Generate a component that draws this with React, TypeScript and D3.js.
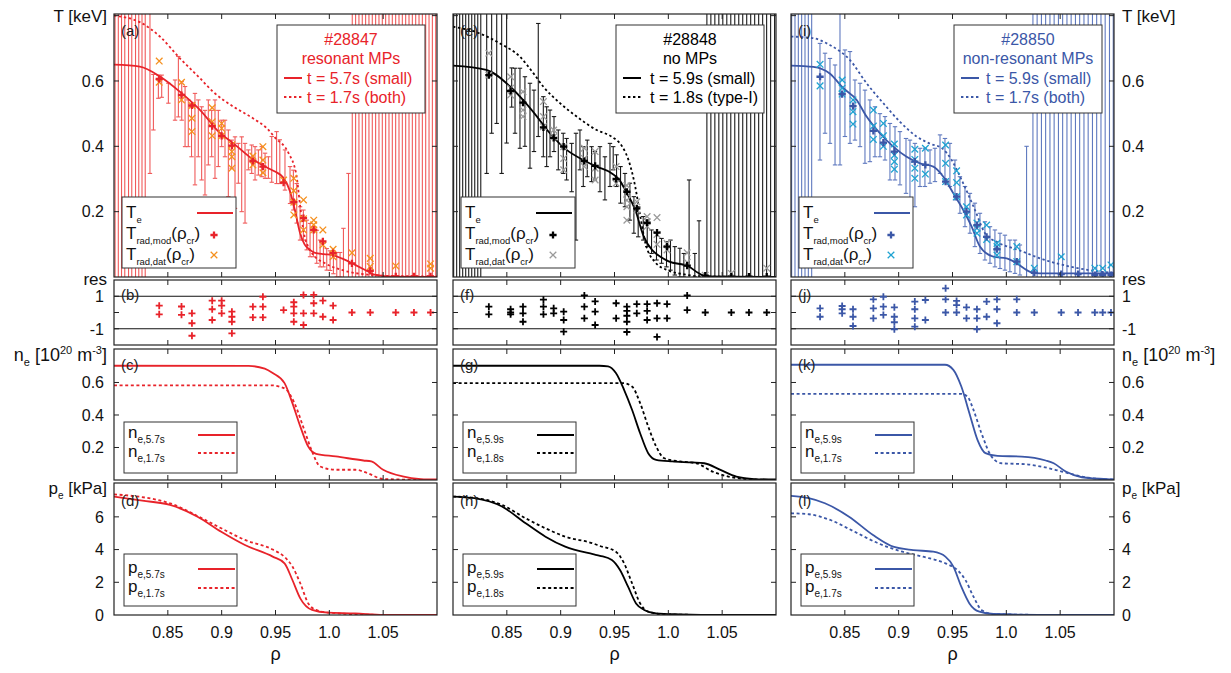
import React from "react";
import * as d3 from "d3";

type P = [number, number];
type Bar = [number, number, number];

// ---------- axes ----------
const RHO_DOMAIN: P = [0.8, 1.1];
const xTickValues = [0.85, 0.9, 0.95, 1.0, 1.05];
const xTickLabels = ["0.85", "0.9", "0.95", "1.0", "1.05"];
const tTickMarks = [0.2, 0.4, 0.6, 0.8];
const tTickLabels = [0.2, 0.4, 0.6];
const resTickMarks = [-1, 0, 1];
const resTickLabels = [-1, 1];
const neTickMarks = [0.2, 0.4, 0.6];
const neTickLabels = [0.2, 0.4, 0.6];
const peTickMarks = [2, 4, 6];
const peTickLabels = [0, 2, 4, 6];

// ---------- column 1: #28847 resonant MPs ----------
const te1Solid: P[] = [[0.80,0.650],[0.824,0.644],[0.843,0.613],[0.863,0.562],[0.88,0.511],[0.898,0.442],[0.911,0.409],[0.929,0.36],[0.942,0.335],[0.95,0.322],[0.957,0.305],[0.9635,0.262],[0.968,0.205],[0.9728,0.135],[0.977,0.100],[0.982,0.083],[0.9867,0.074],[0.995,0.070],[1.003,0.067],[1.0115,0.057],[1.024,0.037],[1.036,0.017],[1.042,0.007],[1.06,0.001],[1.10,0]];
const te1Dash: P[] = [[0.80,0.80],[0.824,0.78],[0.843,0.735],[0.861,0.67],[0.88,0.608],[0.892,0.567],[0.911,0.521],[0.929,0.486],[0.942,0.455],[0.95,0.425],[0.962,0.38],[0.9695,0.31],[0.9728,0.22],[0.976,0.14],[0.98,0.095],[0.985,0.068],[0.996,0.042],[1.011,0.022],[1.036,0.007],[1.06,0.003],[1.10,0.002]];
const mod1Rho = [0.842,0.8627,0.8724,0.8912,0.90,0.9095,0.929,0.9383,0.9575,0.967,0.976,0.9855,0.994,1.0035,1.021,1.038,1.0617,1.0786,1.094];
const mod1T = [0.606,0.557,0.525,0.462,0.432,0.402,0.355,0.338,0.289,0.229,0.180,0.144,0.109,0.073,0.042,0.019,0.002,0.002,0.002];
const dat1T: number[][] = [[0.661,0.596],[0.596,0.542],[0.525,0.486,0.445],[0.518,0.475,0.432],[0.47,0.455,0.432],[0.405,0.384,0.368,0.333],[0.37,0.343],[0.399,0.358,0.319],[0.297],[0.302,0.264,0.229,0.19],[0.236,0.178,0.144],[0.174,0.16,0.144],[0.144,0.098],[0.085,0.062],[0.074],[0.057,0.032],[0.034],[],[0.04,0.027]];
const res1: number[][] = [[0.42,-0.11],[0.37,-0.14],[-0.05,-0.66,-1.43],[0.73,0.2,-0.46],[0.73,0.42,-0.05],[0.05,-0.26,-0.57,-1.28],[0.36,-0.3],[0.97,0.36,-0.3],[0.15],[0.63,0.36,-0.05,-0.57],[1.08,-0.05,-0.77],[1.08,0.57,-0.05],[0.73,-0.26],[0.42,-0.46],[0],[0],[0],[0],[0]];
const err1: Bar[] = [[0.801,-1,2],[0.804,-1,2],[0.807,-1,2],[0.810,-1,2],[0.8135,-1,2],[0.8165,-1,2],[0.820,-1,2],[0.823,-1,2],[0.826,-1,2],[0.829,-1,2],
  [0.8334,0.317,2],[0.8366,0.45,0.62],[0.8412,0.547,0.618],[0.8443,0.55,0.618],[0.8505,0.532,0.593],[0.8567,0.48,0.603],[0.8598,0.49,0.675],[0.8629,0.48,0.598],[0.866,0.399,0.583],[0.869,0.399,0.542],[0.872,0.368,0.521],[0.8752,0.282,0.562],[0.8783,0.368,0.542],[0.8814,0.297,0.521],[0.8845,0.251,0.51],[0.8876,0.343,0.542],[0.8907,0.368,0.51],[0.8938,0.302,0.542],[0.8969,0.338,0.51],[0.90,0.399,0.48],[0.9031,0.368,0.48],[0.9062,0.246,0.45],[0.9093,0.333,0.419],[0.9124,0.21,0.429],[0.9155,0.287,0.409],[0.9186,0.2,0.429],[0.9217,0.165,0.409],[0.9248,0.328,0.389],[0.9279,0.317,0.404],[0.931,0.297,0.399],[0.9341,0.312,0.389],[0.9372,0.307,0.399],[0.9403,0.302,0.379],[0.9434,0.302,0.368],[0.9465,0.29,0.43],[0.951,0.286,0.445],[0.954,0.286,0.42],[0.9588,0.266,0.389],[0.9635,0.225,0.338],[0.9666,0.205,0.327],[0.9697,0.165,0.286],[0.9728,0.113,0.215],[0.9759,0.113,0.205],[0.979,0.083,0.174],[0.9821,0.062,0.164],[0.9852,0.062,0.154],[0.9883,0.042,0.143],[0.9914,0.031,0.113],[0.9945,0.031,0.103],[0.9976,0.021,0.087],[1.0007,0.02,0.08],[1.0038,0.01,0.08],[1.0069,0,0.075],[1.01,0,0.075],[1.0131,-1,0.149],[1.0178,-1,0.317],
  [1.0213,-1,2],[1.0244,-1,2],[1.0275,-1,2],[1.0306,-1,2],[1.0337,-1,2],[1.0368,-1,2],[1.0399,-1,2],[1.043,-1,2],[1.0461,-1,2],[1.0492,-1,2],[1.0523,-1,2],[1.0554,-1,2],[1.0585,-1,2],[1.0616,-1,2],[1.0647,-1,2],[1.0678,-1,2],[1.0709,-1,2],[1.074,-1,2],[1.0771,-1,2],[1.0802,-1,2],[1.0833,-1,2],[1.0864,-1,2],[1.0895,-1,2],[1.0926,-1,2],[1.0957,-1,2],[1.0988,-1,2]];
const ne1Solid: P[] = [[0.80,0.703],[0.925,0.702],[0.94,0.685],[0.9474,0.658],[0.9584,0.596],[0.9657,0.473],[0.973,0.33],[0.9804,0.206],[0.9877,0.161],[1.006,0.145],[1.0316,0.12],[1.039,0.114],[1.05,0.063],[1.068,0.022],[1.085,0.006],[1.10,0.003]];
const ne1Dash: P[] = [[0.80,0.582],[0.948,0.582],[0.9535,0.575],[0.9602,0.555],[0.9676,0.473],[0.9767,0.309],[0.984,0.175],[0.9915,0.083],[1.006,0.063],[1.0244,0.063],[1.0355,0.042],[1.05,0.006],[1.10,0.0]];
const pe1Solid: P[] = [[0.80,7.24],[0.8263,6.99],[0.852,6.73],[0.8776,6.01],[0.8996,5.09],[0.9216,4.28],[0.9474,3.57],[0.9584,3.16],[0.9657,2.14],[0.973,1.02],[0.984,0.31],[0.9987,0.14],[1.024,0.1],[1.05,0.01],[1.10,0]];
const pe1Dash: P[] = [[0.80,7.38],[0.852,6.83],[0.8776,6.05],[0.8996,5.3],[0.9216,4.59],[0.9474,4.0],[0.9584,3.55],[0.9657,2.96],[0.973,1.94],[0.9804,0.71],[0.9877,0.31],[1.0,0.14],[1.045,0.01],[1.10,0]];

// ---------- column 2: #28848 no MPs ----------
const te2Solid: P[] = [[0.80,0.647],[0.831,0.634],[0.853,0.583],[0.865,0.542],[0.878,0.491],[0.89,0.44],[0.9056,0.389],[0.921,0.358],[0.9334,0.338],[0.9476,0.317],[0.955,0.295],[0.96,0.266],[0.9693,0.205],[0.977,0.125],[0.9848,0.083],[0.9926,0.062],[1.0003,0.048],[1.019,0.032],[1.028,0.012],[1.035,0.002],[1.10,0]];
const te2Dash: P[] = [[0.80,0.766],[0.822,0.749],[0.8436,0.715],[0.8622,0.674],[0.8746,0.624],[0.8838,0.583],[0.8994,0.532],[0.9149,0.491],[0.9334,0.45],[0.9476,0.429],[0.957,0.40],[0.963,0.358],[0.9693,0.276],[0.974,0.185],[0.9786,0.105],[0.9878,0.045],[1.0,0.02],[1.015,0.008],[1.03,0.002],[1.10,0]];
const mod2Rho = [0.8333,0.8535,0.865,0.884,0.8935,0.9028,0.922,0.932,0.9515,0.9615,0.9707,0.9803,0.9895,0.9988,1.0175,1.0343,1.0585,1.0749,1.0914];
const mod2T = [0.618,0.57,0.534,0.458,0.426,0.399,0.355,0.34,0.30,0.261,0.21,0.166,0.136,0.093,0.035,0.004,0.001,0.001,0.001];
const dat2T: number[][] = [[0.685,0.618],[0.613,0.578,0.557],[0.567,0.511,0.491],[0.537,0.491,0.46],[0.45,0.429],[0.399,0.363,0.328],[0.394,0.363,0.338],[0.384,0.333,0.297],[0.338,0.287],[0.28,0.256,0.235,0.215,0.174],[0.23,0.205],[0.185,0.17,0.155],[0.182,0.13,0.1],[0.103,0.083],[0.074,0.045],[0.005],[0.011],[],[0.027]];
const res2: number[][] = [[0.36,-0.11],[0.2,0,-0.11],[0.36,-0.05,-0.57],[0.79,0.36,-0.11],[0.26,-0.05],[0.05,-0.46,-1.18],[1.05,0.36,-0.36],[0.68,0.05,-0.77],[0.57,-0.36],[0.36,0.1,-0.2,-0.57,-1.2],[0.52,-0.05],[0.52,0.1,-0.46],[0.57,-0.36,-1.5],[0.52,-0.36],[1.05,0.15],[0],[0],[0],[0]];
const err2: Bar[] = [[0.8006,-1,2],[0.8034,-1,2],[0.8062,-1,2],[0.809,-1,2],[0.8118,-1,2],[0.8146,-1,2],[0.8174,-1,2],[0.8202,-1,2],[0.823,-1,2],[0.8258,-1,2],
  [0.8313,0.317,2],[0.8359,0.44,2],[0.8406,0.47,2],[0.8452,0.317,2],[0.8498,0.41,2],[0.8545,0.52,0.64],[0.8576,0.44,0.639],[0.8622,0.394,0.639],[0.8668,0.40,0.613],[0.8715,0.333,0.593],[0.8752,0.384,0.572],[0.8792,0.43,0.776],[0.8839,0.368,0.552],[0.887,0.338,0.521],[0.8901,0.368,0.511],[0.8938,0.384,0.491],[0.8978,0.328,0.45],[0.9024,0.317,0.44],[0.9055,0.297,0.424],[0.9102,0.261,0.409],[0.9142,0.113,0.44],[0.9179,0.328,0.45],[0.921,0.277,0.399],[0.9247,0.307,0.419],[0.9287,0.292,0.399],[0.9318,0.297,0.384],[0.9365,0.261,0.399],[0.9411,0.236,0.368],[0.9458,0.277,0.409],[0.9488,0.328,0.399],[0.9519,0.277,0.374],[0.9556,0.226,0.338],[0.9597,0.215,0.317],[0.9643,0.174,0.287],[0.968,0.134,0.246],[0.972,0.123,0.215],[0.9767,0.113,0.185],[0.9804,0.093,0.174],[0.9844,0.072,0.144],[0.989,0.052,0.134],[0.9937,0.042,0.118],[0.9983,0.031,0.108],[1.002,0.021,0.113],[1.006,0.006,0.093],[1.0107,0,0.088],[1.0144,0,0.072],[1.0193,-1,0.297],[1.0246,0,0.072],[1.0285,-1,0.172],
  [1.0358,-1,2],[1.0395,-1,2],[1.0432,-1,2],[1.0469,-1,2],[1.0506,-1,2],[1.0543,-1,2],[1.058,-1,2],[1.0617,-1,2],[1.0654,-1,2],[1.0691,-1,2],[1.0728,-1,2],[1.0765,-1,2],[1.0802,-1,2],[1.0839,-1,2],[1.0876,-1,2],[1.0913,-1,2],[1.095,-1,2],[1.0987,-1,2]];
const ne2Solid: P[] = [[0.80,0.703],[0.936,0.703],[0.944,0.699],[0.9513,0.658],[0.9589,0.555],[0.9663,0.432],[0.9738,0.288],[0.9813,0.165],[0.9887,0.124],[1.0036,0.114],[1.0223,0.108],[1.0334,0.103],[1.0484,0.062],[1.0632,0.021],[1.08,0.006],[1.10,0.003]];
const ne2Dash: P[] = [[0.80,0.596],[0.958,0.596],[0.9663,0.575],[0.9738,0.473],[0.9813,0.329],[0.9887,0.206],[0.9962,0.134],[1.011,0.114],[1.026,0.103],[1.041,0.052],[1.0557,0.021],[1.078,0.004],[1.10,0.0]];
const pe2Solid: P[] = [[0.80,7.24],[0.8198,7.14],[0.8455,6.63],[0.8675,5.61],[0.8859,4.79],[0.9042,4.18],[0.9299,3.72],[0.9365,3.62],[0.9476,3.36],[0.9551,2.75],[0.9626,1.73],[0.97,0.71],[0.9775,0.31],[0.9887,0.1],[1.011,0.04],[1.05,0],[1.10,0]];
const pe2Dash: P[] = [[0.80,7.24],[0.8198,7.16],[0.8455,6.73],[0.8675,5.91],[0.8859,5.3],[0.9042,4.79],[0.9299,4.38],[0.9365,4.22],[0.9513,3.87],[0.9589,3.16],[0.9663,1.94],[0.9738,0.71],[0.9813,0.2],[0.9962,0.04],[1.05,0],[1.10,0]];

// ---------- column 3: #28850 non-resonant MPs ----------
const te3Solid: P[] = [[0.80,0.647],[0.8207,0.643],[0.836,0.623],[0.8486,0.578],[0.861,0.542],[0.8702,0.491],[0.8826,0.44],[0.895,0.399],[0.9074,0.368],[0.9198,0.348],[0.9322,0.338],[0.9415,0.307],[0.9508,0.256],[0.96,0.205],[0.9678,0.154],[0.9755,0.093],[0.988,0.062],[1.0003,0.057],[1.0096,0.042],[1.022,0.016],[1.0313,0.011],[1.10,0.011]];
const te3Dash: P[] = [[0.80,0.736],[0.8207,0.731],[0.836,0.71],[0.8548,0.664],[0.8702,0.593],[0.8857,0.532],[0.9012,0.475],[0.9167,0.43],[0.93,0.407],[0.94,0.395],[0.9492,0.358],[0.9585,0.297],[0.9709,0.205],[0.9802,0.134],[0.9925,0.105],[1.011,0.083],[1.0358,0.052],[1.0606,0.031],[1.0884,0.016],[1.10,0.013]];
const mod3Rho = [0.827,0.8475,0.8576,0.8765,0.8858,0.896,0.915,0.9248,0.9436,0.9538,0.963,0.9727,0.9817,0.9913,1.0097,1.026,1.051,1.0666,1.0822,1.0895,1.0972];
const mod3T = [0.613,0.56,0.523,0.447,0.411,0.384,0.353,0.343,0.292,0.246,0.2,0.159,0.123,0.085,0.047,0.013,0.009,0.009,0.006,0.006,0.006];
const dat3T: number[][] = [[0.651,0.585],[0.603,0.578,0.56],[0.542,0.506,0.468],[0.511,0.462,0.421],[0.47,0.432,0.40],[0.407,0.373,0.353,0.33],[0.391,0.36,0.333,0.302],[0.394,0.315],[0.404,0.348,0.292],[0.325,0.289,0.246],[0.215,0.19],[0.165,0.149,0.134],[0.159,0.115],[0.103,0.093,0.067],[0.093,0.047],[0.027],[0.062],[],[0.027],[0.027],[0.037]];
const res3: number[][] = [[0.26,-0.26],[0.4,0.2,-0.05],[0.2,-0.26,-0.83],[0.81,0.26,-0.36],[0.97,0.36,-0.15],[0.32,-0.26,-0.6,-1.03],[0.67,0.2,-0.36,-0.87],[0.77,-0.46],[1.49,0.81,0],[0.71,0.46,0],[0.32,-0.36],[0.2,-0.36,-1.03],[0.67,-0.26],[0.81,0.2,-0.66],[0.81,0],[0],[0],[0],[0],[0],[0]];
const err3: Bar[] = [[0.8006,-1,2],[0.8037,-1,2],[0.8068,-1,2],[0.8099,-1,2],[0.813,-1,2],[0.8161,-1,2],[0.8192,-1,2],
  [0.8269,0.358,0.715],[0.8316,0.44,0.685],[0.8362,0.409,0.669],[0.8409,0.343,0.649],[0.8455,0.343,2],[0.8501,0.43,0.695],[0.8548,0.409,0.69],[0.8594,0.419,0.603],[0.8641,0.399,0.593],[0.8687,0.348,0.572],[0.8733,0.353,0.542],[0.878,0.368,0.521],[0.8826,0.368,0.5],[0.8873,0.358,0.491],[0.8919,0.297,0.47],[0.8966,0.297,0.46],[0.9012,0.282,0.445],[0.9068,0.256,0.424],[0.9105,0.236,0.419],[0.9151,0.215,0.409],[0.9198,0.277,0.394],[0.9244,0.277,0.394],[0.9291,0.287,0.389],[0.9337,0.292,0.394],[0.9384,0.317,0.435],[0.943,0.297,0.424],[0.9476,0.277,0.409],[0.9523,0.236,0.358],[0.9569,0.195,0.307],[0.9616,0.154,0.277],[0.9662,0.134,0.256],[0.9708,0.093,0.226],[0.9755,0.072,0.195],[0.9801,0.052,0.169],[0.9848,0.042,0.154],[0.9894,0.031,0.144],[0.9941,0.026,0.134],[0.9987,0.021,0.128],[1.0033,0.016,0.113],[1.008,0.011,0.113],[1.0126,0.006,0.098],[1.0188,-1,0.4],
  [1.0247,-1,2],[1.0286,-1,2],[1.0326,-1,2],[1.0365,-1,2],[1.0405,-1,2],[1.0444,-1,2],[1.0484,-1,2],[1.0523,-1,2],[1.0563,-1,2],[1.0602,-1,2],[1.0642,-1,2],[1.0681,-1,2],[1.0721,-1,2],[1.076,-1,2],[1.08,-1,2],[1.0839,-1,2],[1.0879,-1,2],[1.0918,-1,2],[1.0958,-1,2],[1.0993,-1,2]];
const ne3Solid: P[] = [[0.80,0.709],[0.943,0.709],[0.9508,0.678],[0.9582,0.575],[0.9657,0.411],[0.9732,0.247],[0.9806,0.165],[0.9918,0.148],[1.0142,0.144],[1.0366,0.12],[1.044,0.103],[1.0552,0.052],[1.0702,0.017],[1.096,0.004],[1.10,0.003]];
const ne3Dash: P[] = [[0.80,0.53],[0.958,0.53],[0.9639,0.513],[0.9695,0.431],[0.9769,0.288],[0.9863,0.144],[0.9955,0.103],[1.018,0.097],[1.0329,0.082],[1.0516,0.052],[1.0702,0.021],[1.0925,0.004],[1.10,0.003]];
const pe3Solid: P[] = [[0.80,7.28],[0.8165,7.14],[0.8315,6.83],[0.8539,6.01],[0.8762,4.89],[0.8949,4.18],[0.9135,3.97],[0.9321,3.87],[0.9434,3.57],[0.9508,2.96],[0.9582,1.73],[0.9657,0.71],[0.975,0.2],[0.9881,0.06],[1.05,0],[1.10,0]];
const pe3Dash: P[] = [[0.80,6.22],[0.8165,6.16],[0.8364,5.81],[0.8587,5.1],[0.8811,4.38],[0.9035,3.87],[0.9221,3.57],[0.9434,3.16],[0.9545,2.75],[0.962,2.14],[0.9695,1.12],[0.9769,0.31],[0.9881,0.06],[1.05,0],[1.10,0]];

// ---------- legend texts ----------
const shotLabels = ["#28847", "#28848", "#28850"];
const mpLabels = ["resonant MPs", "no MPs", "non-resonant MPs"];
const tSolidLabels = ["t = 5.7s (small)", "t = 5.9s (small)", "t = 5.9s (small)"];
const tDashLabels = ["t = 1.7s (both)", "t = 1.8s (type-I)", "t = 1.7s (both)"];
const solidSubs = ["e,5.7s", "e,5.9s", "e,5.9s"];
const dashSubs = ["e,1.7s", "e,1.8s", "e,1.7s"];
const letters = [["(a)","(b)","(c)","(d)"],["(e)","(f)","(g)","(h)"],["(i)","(j)","(k)","(l)"]];

const columns = [
  { te: te1Solid, teD: te1Dash, modRho: mod1Rho, modT: mod1T, dat: dat1T, res: res1, err: err1, ne: ne1Solid, neD: ne1Dash, pe: pe1Solid, peD: pe1Dash,
    main: "#e8232a", datColor: "#f5901e", errColor: "#f05a5a", textStart: 30 },
  { te: te2Solid, teD: te2Dash, modRho: mod2Rho, modT: mod2T, dat: dat2T, res: res2, err: err2, ne: ne2Solid, neD: ne2Dash, pe: pe2Solid, peD: pe2Dash,
    main: "#000000", datColor: "#9a9a9a", errColor: "#1a1a1a", textStart: 34 },
  { te: te3Solid, teD: te3Dash, modRho: mod3Rho, modT: mod3T, dat: dat3T, res: res3, err: err3, ne: ne3Solid, neD: ne3Dash, pe: pe3Solid, peD: pe3Dash,
    main: "#3b57a7", datColor: "#1fa3d2", errColor: "#5f79bf", textStart: 32 },
];

// ---------- layout ----------
const FONT = "'Liberation Sans', Arial, Helvetica, sans-serif";
const COL_LEFT = [114, 453, 791];
const PW = 323;
const PT = { top: 14, bottom: 277 };
const PR = { top: 280, bottom: 345 };
const PN = { top: 349, bottom: 480 };
const PP = { top: 483, bottom: 615 };
const TICK = 5;
const DASH = "3,2.6";
const TDASH = "2.4,2.6";

function Frame({ L, p, yTicks, ys, x }: any) {
  return (
    <g>
      <rect x={L} y={p.top} width={PW} height={p.bottom - p.top} fill="none" stroke="#222" strokeWidth={1.2} />
      {xTickValues.map((v) => (
        <g key={"xt" + v}>
          <line x1={x(v)} x2={x(v)} y1={p.bottom} y2={p.bottom - TICK} stroke="#222" />
          <line x1={x(v)} x2={x(v)} y1={p.top} y2={p.top + TICK} stroke="#222" />
        </g>
      ))}
      {yTicks.map((v: number) => (
        <g key={"yt" + v}>
          <line x1={L} x2={L + TICK} y1={ys(v)} y2={ys(v)} stroke="#222" />
          <line x1={L + PW} x2={L + PW - TICK} y1={ys(v)} y2={ys(v)} stroke="#222" />
        </g>
      ))}
    </g>
  );
}

function Column({ ci }: { ci: number }) {
  const c = columns[ci];
  const L = COL_LEFT[ci];
  const x = d3.scaleLinear().domain(RHO_DOMAIN).range([L, L + PW]);
  const yT = d3.scaleLinear().domain([0, 0.805]).range([PT.bottom, PT.top]);
  const yR = d3.scaleLinear().domain([-2, 2]).range([PR.bottom, PR.top]);
  const yN = d3.scaleLinear().domain([0, 0.806]).range([PN.bottom, PN.top]);
  const yP = d3.scaleLinear().domain([0, 8.07]).range([PP.bottom, PP.top]);
  const mk = (ys: any) => d3.line<P>().x((d) => x(d[0])).y((d) => ys(d[1])).curve(d3.curveMonotoneX);
  const lT = mk(yT), lN = mk(yN), lP = mk(yP);
  const id = (s: string) => `clip-${ci}-${s}`;
  const plus = (cx: number, cy: number, h: number) => `M${cx - h},${cy}H${cx + h}M${cx},${cy - h}V${cy + h}`;
  const cross = (cx: number, cy: number, h: number) => `M${cx - h},${cy - h}L${cx + h},${cy + h}M${cx - h},${cy + h}L${cx + h},${cy - h}`;
  const mc = c.main;
  const legTx = L + 163;
  const legBx = L + 8;
  const lab = letters[ci];

  return (
    <g>
      <defs>
        {[["T", PT], ["R", PR], ["N", PN], ["P", PP]].map(([k, p]: any) => (
          <clipPath id={id(k)} key={k}>
            <rect x={L} y={p.top} width={PW} height={p.bottom - p.top} />
          </clipPath>
        ))}
      </defs>

      {/* ---------- T panel ---------- */}
      <g clipPath={`url(#${id("T")})`}>
        {c.err.map(([r, lo, hi], i) => {
          const xx = x(r), y1 = yT(lo), y2 = yT(hi);
          return (
            <g key={"e" + i} stroke={c.errColor} strokeWidth={1.1}>
              <line x1={xx} x2={xx} y1={y1} y2={y2} />
              <line x1={xx - 2.2} x2={xx + 2.2} y1={y1} y2={y1} />
              <line x1={xx - 2.2} x2={xx + 2.2} y1={y2} y2={y2} />
            </g>
          );
        })}
        <path d={lT(c.teD) || ""} fill="none" stroke={mc} strokeWidth={1.8} strokeDasharray={TDASH} />
        <path d={lT(c.te) || ""} fill="none" stroke={mc} strokeWidth={1.8} />
        {c.dat.map((vals, i) => vals.map((v, j) => (
          <path key={`d${i}-${j}`} d={cross(x(c.modRho[i]), yT(v), 3.3)} stroke={c.datColor} strokeWidth={1.3} fill="none" />
        )))}
        {c.modRho.map((r, i) => (
          <path key={"m" + i} d={plus(x(r), yT(c.modT[i]), 3.6)} stroke={mc} strokeWidth={2.3} fill="none" />
        ))}
      </g>
      <Frame L={L} p={PT} yTicks={tTickMarks} ys={yT} x={x} />
      <text x={L + 7} y={36} fontSize={15} fontFamily={FONT} fill="#222">{lab[0]}</text>

      {/* top-right legend */}
      <g fontFamily={FONT} fontSize={16} fill={mc}>
        <rect x={legTx} y={25} width={148} height={88} fill="#fff" stroke="#333" strokeWidth={1} />
        <text x={legTx + 74} y={45} textAnchor="middle">{shotLabels[ci]}</text>
        <text x={legTx + 74} y={64} textAnchor="middle">{mpLabels[ci]}</text>
        <line x1={legTx + 7} x2={legTx + 25} y1={78} y2={78} stroke={mc} strokeWidth={2} />
        <text x={legTx + c.textStart} y={84}>{tSolidLabels[ci]}</text>
        <line x1={legTx + 7} x2={legTx + 25} y1={97} y2={97} stroke={mc} strokeWidth={2} strokeDasharray={TDASH} />
        <text x={legTx + c.textStart} y={103}>{tDashLabels[ci]}</text>
      </g>

      {/* bottom-left legend */}
      <g fontFamily={FONT} fill="#111">
        <rect x={legBx} y={197} width={114} height={71} fill="#fff" stroke="#333" strokeWidth={1} />
        <text x={legBx + 4} y={218} fontSize={17}>T<tspan dy={5} fontSize={9.5}>e</tspan></text>
        <line x1={legBx + 75} x2={legBx + 111} y1={213} y2={213} stroke={mc} strokeWidth={2} />
        <text x={legBx + 4} y={239} fontSize={17}>T<tspan dy={4.5} fontSize={9.5}>rad,mod</tspan><tspan dy={-4.5}>(ρ</tspan><tspan dy={4.5} fontSize={9.5}>cr</tspan><tspan dy={-4.5}>)</tspan></text>
        <path d={plus(legBx + 92, 235, 3.6)} stroke={mc} strokeWidth={2.3} />
        <text x={legBx + 4} y={260} fontSize={17}>T<tspan dy={4.5} fontSize={9.5}>rad,dat</tspan><tspan dy={-4.5}>(ρ</tspan><tspan dy={4.5} fontSize={9.5}>cr</tspan><tspan dy={-4.5}>)</tspan></text>
        <path d={cross(legBx + 92, 255, 3.3)} stroke={c.datColor} strokeWidth={1.3} />
      </g>

      {/* ---------- residual panel ---------- */}
      <g clipPath={`url(#${id("R")})`}>
        {[-1, 1].map((v) => (
          <line key={"rl" + v} x1={L} x2={L + PW} y1={yR(v)} y2={yR(v)} stroke="#111" strokeWidth={1} />
        ))}
        {c.res.map((vals, i) => vals.map((v, j) => (
          <path key={`r${i}-${j}`} d={plus(x(c.modRho[i]), yR(v), 3.5)} stroke={mc} strokeWidth={1.8} fill="none" />
        )))}
      </g>
      <Frame L={L} p={PR} yTicks={resTickMarks} ys={yR} x={x} />
      <text x={L + 7} y={300} fontSize={15} fontFamily={FONT} fill="#222">{lab[1]}</text>

      {/* ---------- ne panel ---------- */}
      <g clipPath={`url(#${id("N")})`}>
        <path d={lN(c.neD) || ""} fill="none" stroke={mc} strokeWidth={1.8} strokeDasharray={DASH} />
        <path d={lN(c.ne) || ""} fill="none" stroke={mc} strokeWidth={1.8} />
      </g>
      <Frame L={L} p={PN} yTicks={neTickMarks} ys={yN} x={x} />
      <text x={L + 7} y={370} fontSize={15} fontFamily={FONT} fill="#222">{lab[2]}</text>
      <g fontFamily={FONT} fill="#111">
        <rect x={L + 10} y={422} width={113} height={51} fill="#fff" stroke="#333" strokeWidth={1} />
        <text x={L + 14} y={438} fontSize={17}>n<tspan dy={5} fontSize={10}>{solidSubs[ci]}</tspan></text>
        <line x1={L + 84} x2={L + 121} y1={435} y2={435} stroke={mc} strokeWidth={2} />
        <text x={L + 14} y={457} fontSize={17}>n<tspan dy={5} fontSize={10}>{dashSubs[ci]}</tspan></text>
        <line x1={L + 84} x2={L + 121} y1={453} y2={453} stroke={mc} strokeWidth={2} strokeDasharray={DASH} />
      </g>

      {/* ---------- pe panel ---------- */}
      <g clipPath={`url(#${id("P")})`}>
        <path d={lP(c.peD) || ""} fill="none" stroke={mc} strokeWidth={1.8} strokeDasharray={DASH} />
        <path d={lP(c.pe) || ""} fill="none" stroke={mc} strokeWidth={1.8} />
      </g>
      <Frame L={L} p={PP} yTicks={peTickMarks} ys={yP} x={x} />
      <text x={L + 7} y={506} fontSize={15} fontFamily={FONT} fill="#222">{lab[3]}</text>
      <g fontFamily={FONT} fill="#111">
        <rect x={L + 10} y={554} width={113} height={52} fill="#fff" stroke="#333" strokeWidth={1} />
        <text x={L + 14} y={573} fontSize={17}>p<tspan dy={5} fontSize={10}>{solidSubs[ci]}</tspan></text>
        <line x1={L + 84} x2={L + 121} y1={569} y2={569} stroke={mc} strokeWidth={2} />
        <text x={L + 14} y={592} fontSize={17}>p<tspan dy={5} fontSize={10}>{dashSubs[ci]}</tspan></text>
        <line x1={L + 84} x2={L + 121} y1={588} y2={588} stroke={mc} strokeWidth={2} strokeDasharray={DASH} />
      </g>

      {/* x tick labels + axis label */}
      <g fontFamily={FONT} fontSize={16} fill="#111" textAnchor="middle">
        {xTickValues.map((v, i) => (
          <text key={"xl" + v} x={x(v)} y={638}>{xTickLabels[i]}</text>
        ))}
        <text x={L + PW / 2} y={660} fontSize={18}>ρ</text>
      </g>

      {/* y tick labels: left for column 1, right for column 3 */}
      {ci !== 1 && (() => {
        const left = ci === 0;
        const tx = left ? L - 10 : L + PW + 8;
        const anchor = left ? "end" : "start";
        return (
          <g fontFamily={FONT} fontSize={16} fill="#111" textAnchor={anchor}>
            {tTickLabels.map((v) => <text key={"tl" + v} x={tx} y={yT(v)} dy="0.36em">{d3.format(".1f")(v)}</text>)}
            {resTickLabels.map((v) => <text key={"rl" + v} x={tx} y={yR(v)} dy="0.36em">{v}</text>)}
            {neTickLabels.map((v) => <text key={"nl" + v} x={tx} y={yN(v)} dy="0.36em">{d3.format(".1f")(v)}</text>)}
            {peTickLabels.map((v) => <text key={"pl" + v} x={tx} y={yP(v)} dy="0.36em">{v}</text>)}
          </g>
        );
      })()}
      {ci !== 1 && (() => {
        const left = ci === 0;
        const tx = left ? L - 7 : L + PW + 8;
        const anchor = left ? "end" : "start";
        return (
          <g fontFamily={FONT} fontSize={17} fill="#111" textAnchor={anchor}>
            <text x={tx} y={22}>T [keV]</text>
            <text x={tx} y={285}>res</text>
            <text x={tx} y={361} fontSize={18}>n<tspan dy={5} fontSize={11}>e</tspan><tspan dy={-5}> [10</tspan><tspan dy={-7} fontSize={11}>20</tspan><tspan dy={7}> m</tspan><tspan dy={-7} fontSize={11}>-3</tspan><tspan dy={7}>]</tspan></text>
            <text x={tx} y={494}>p<tspan dy={5} fontSize={10}>e</tspan><tspan dy={-5}> [kPa]</tspan></text>
          </g>
        );
      })()}
    </g>
  );
}

export default function App() {
  return (
    <svg width={1231} height={673} style={{ position: "absolute", left: 0, top: 0, background: "#fff" }}>
      <rect x={0} y={0} width={1231} height={673} fill="#fff" />
      {columns.map((_, i) => <Column key={i} ci={i} />)}
    </svg>
  );
}
